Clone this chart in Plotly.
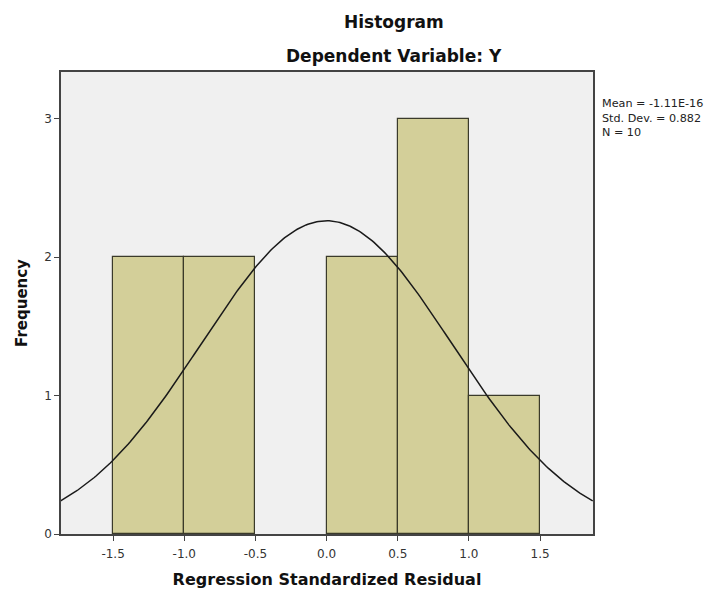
import numpy as np
import plotly.graph_objects as go

# Data
bin_lefts = [-1.5, -1.0, 0.0, 0.5, 1.0]
bin_width = 0.5
counts = [2, 2, 2, 3, 1]
mean_val = -1.11e-16
std_dev = 0.882
n_obs = 10
x_ticks = [-1.5, -1.0, -0.5, 0.0, 0.5, 1.0, 1.5]
x_tick_labels = ["-1.5", "-1.0", "-0.5", "0.0", "0.5", "1.0", "1.5"]
y_ticks = [0, 1, 2, 3]
stats_lines = ["Mean = -1.11E-16", "Std. Dev. = 0.882", "N = 10"]

centers = [b + bin_width / 2 for b in bin_lefts]

# Normal curve derived from the reported mean / sd / N
xs = np.linspace(-1.87, 1.87, 300)
ys = n_obs * bin_width / (std_dev * np.sqrt(2 * np.pi)) * np.exp(-0.5 * ((xs - mean_val) / std_dev) ** 2)

fig = go.Figure()
fig.add_trace(go.Bar(
    x=centers, y=counts, width=[bin_width] * len(counts),
    marker=dict(color="#d3cf99", line=dict(color="#3a3a2a", width=1.2)),
    hoverinfo="skip", showlegend=False,
))
fig.add_trace(go.Scatter(
    x=xs, y=ys, mode="lines",
    line=dict(color="#1a1a1a", width=1.5),
    hoverinfo="skip", showlegend=False,
))

ff = "DejaVu Sans, Verdana, sans-serif"
annotations = [
    dict(text="<b>Histogram</b>", x=0.626, y=1.108, xref="paper", yref="paper",
         showarrow=False, font=dict(family=ff, size=17, color="#111"), xanchor="center", yanchor="middle"),
    dict(text="<b>Dependent Variable: Y</b>", x=0.626, y=1.035, xref="paper", yref="paper",
         showarrow=False, font=dict(family=ff, size=17, color="#111"), xanchor="center", yanchor="middle"),
    dict(text="<br>".join(stats_lines), x=1.013, y=(534 - 118) / 462, xref="paper", yref="paper",
         showarrow=False, align="left", xanchor="left", yanchor="middle",
         font=dict(family=ff, size=11.2, color="#222")),
]

fig.update_layout(
    width=704, height=585,
    margin=dict(l=53, r=119, t=64, b=59, autoexpand=False),
    paper_bgcolor="white",
    plot_bgcolor="#f0f0f0",
    bargap=0,
    font=dict(family=ff, size=12, color="#222"),
    xaxis=dict(
        range=[-1.866, 1.872], tickvals=x_ticks, ticktext=x_tick_labels,
        showgrid=False, zeroline=False, ticks="outside", ticklen=5, tickwidth=1.2, tickcolor="#444",
        showline=True, linecolor="#444", linewidth=1.5, mirror=True,
        tickfont=dict(family=ff, size=12, color="#333"), ticklabelstandoff=3,
        title=dict(text="<b>Regression Standardized Residual</b>", font=dict(family=ff, size=16, color="#111"), standoff=14),
        automargin=False,
    ),
    yaxis=dict(
        range=[0, 3.336], tickvals=y_ticks,
        showgrid=False, zeroline=False, ticks="outside", ticklen=5, tickwidth=1.2, tickcolor="#444",
        showline=True, linecolor="#444", linewidth=1.5, mirror=True,
        tickfont=dict(family=ff, size=12, color="#333"),
        title=dict(text="<b>Frequency</b>", font=dict(family=ff, size=15, color="#111"), standoff=13),
        automargin=False,
    ),
    annotations=annotations,
)

fig.write_html("out.html")
